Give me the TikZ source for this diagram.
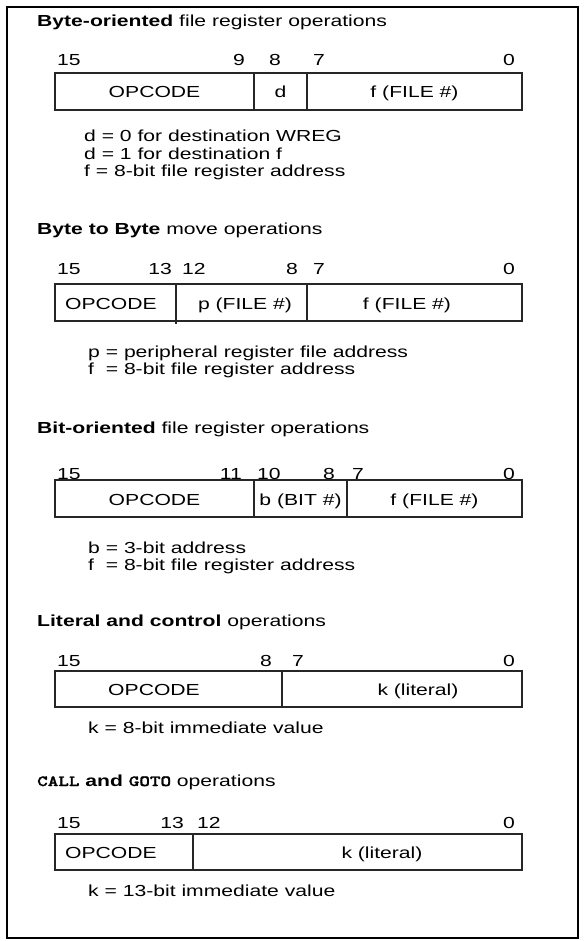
\documentclass[tikz,border=0pt]{standalone}
\usepackage{fontspec}
\setmainfont[FakeStretch=1.32]{Liberation Sans}
\newfontfamily\monobold[Extension=.otf, FakeStretch=1.3, FakeBold=1.5]{lmmonolt10-bold}
\newcommand\diagfont{\fontsize{16}{18}\selectfont}
\newcommand\monofont{\fontsize{15.5}{18}\monobold}
\tikzset{
  txt/.style={inner sep=0pt, font=\diagfont},
  bw/.style={txt, anchor=base west},
  be/.style={txt, anchor=base east},
  bc/.style={txt, anchor=base},
  fieldbox/.style={draw=black!85, line width=1.1pt},
  divider/.style={draw=black!85, line width=1.1pt},
  frame/.style={draw=black, line width=2pt}
}
\begin{document}
\begin{tikzpicture}[x=1pt,y=-1pt]
\useasboundingbox (0,0) rectangle (584,941);
\fill[white] (0,0) rectangle (584,941);
\draw[frame] (7,7) rectangle (578,938);

% ---------- Section 1 ----------
\node[bw] (t1) at (37,27) {\textbf{Byte-oriented} file register operations};
\node[bw] (s1b15) at (57,66) {15};
\node[be] (s1b9) at (245,66) {9};
\node[bc] (s1b8) at (275,66) {8};
\node[bw] (s1b7) at (313,66) {7};
\node[be] (s1b0) at (515,66) {0};
\draw[fieldbox] (55,73) rectangle (522,110);
\draw[divider] (254,73) -- (254,110);
\draw[divider] (307,73) -- (307,110);
\node[bc] (s1op) at (154.5,98) {OPCODE};
\node[bc] (s1d) at (280.5,98) {d};
\node[bc] (s1f) at (414.5,98) {f (FILE \#)};
\node[bw] (s1l1) at (84,142) {d = 0 for destination WREG};
\node[bw] (s1l2) at (84,159.5) {d = 1 for destination f};
\node[bw] (s1l3) at (84,177) {f = 8-bit file register address};

% ---------- Section 2 ----------
\node[bw] (t2) at (37,234) {\textbf{Byte to Byte} move operations};
\node[bw] (s2b15) at (57,274) {15};
\node[be] (s2b13) at (172,274) {13};
\node[bw] (s2b12) at (182,274) {12};
\node[be] (s2b8) at (298,274) {8};
\node[bw] (s2b7) at (313,274) {7};
\node[be] (s2b0) at (515,274) {0};
\draw[fieldbox] (55,284) rectangle (522,321);
\draw[divider] (176,284) -- (176,324);
\draw[divider] (307,284) -- (307,321);
\node[bw] (s2op) at (65,309) {OPCODE};
\node[bc] (s2p) at (245,309) {p (FILE \#)};
\node[bc] (s2f) at (407,309) {f (FILE \#)};
\node[bw] (s2l1) at (88,357) {p = peripheral register file address};
\node[bw] (s2l2) at (88,374.5) {f\ \ = 8-bit file register address};

% ---------- Section 3 ----------
\node[bw] (t3) at (37,433) {\textbf{Bit-oriented} file register operations};
\node[bw] (s3b15) at (57,479) {15};
\node[be] (s3b11) at (242,479) {11};
\node[bw] (s3b10) at (257,479) {10};
\node[be] (s3b8) at (335,479) {8};
\node[bw] (s3b7) at (352,479) {7};
\node[be] (s3b0) at (515,479) {0};
\draw[fieldbox] (55,480) rectangle (522,517);
\draw[divider] (254,480) -- (254,517);
\draw[divider] (347,480) -- (347,517);
\node[bc] (s3op) at (154.5,505) {OPCODE};
\node[bc] (s3b) at (300.5,505) {b (BIT \#)};
\node[bc] (s3f) at (434.5,505) {f (FILE \#)};
\node[bw] (s3l1) at (88,553) {b = 3-bit address};
\node[bw] (s3l2) at (88,570.5) {f\ \ = 8-bit file register address};

% ---------- Section 4 ----------
\node[bw] (t4) at (37,626) {\textbf{Literal and control} operations};
\node[bw] (s4b15) at (57,666) {15};
\node[be] (s4b8) at (272,666) {8};
\node[bw] (s4b7) at (292,666) {7};
\node[be] (s4b0) at (515,666) {0};
\draw[fieldbox] (55,671) rectangle (522,707);
\draw[divider] (282,671) -- (282,707);
\node[bc] (s4op) at (154,695) {OPCODE};
\node[bc] (s4k) at (418,695) {k (literal)};
\node[bw] (s4l1) at (88,733) {k = 8-bit immediate value};

% ---------- Section 5 ----------
\node[bw] (t5) at (37,786) {{\monofont CALL} \textbf{and} {\monofont GOTO} operations};
\node[bw] (s5b15) at (57,828) {15};
\node[be] (s5b13) at (184,828) {13};
\node[bw] (s5b12) at (197,828) {12};
\node[be] (s5b0) at (515,828) {0};
\draw[fieldbox] (55,834) rectangle (522,870);
\draw[divider] (193,834) -- (193,870);
\node[bw] (s5op) at (65,858) {OPCODE};
\node[bc] (s5k) at (382,858) {k (literal)};
\node[bw] (s5l1) at (88,896) {k = 13-bit immediate value};
\end{tikzpicture}
\end{document}
